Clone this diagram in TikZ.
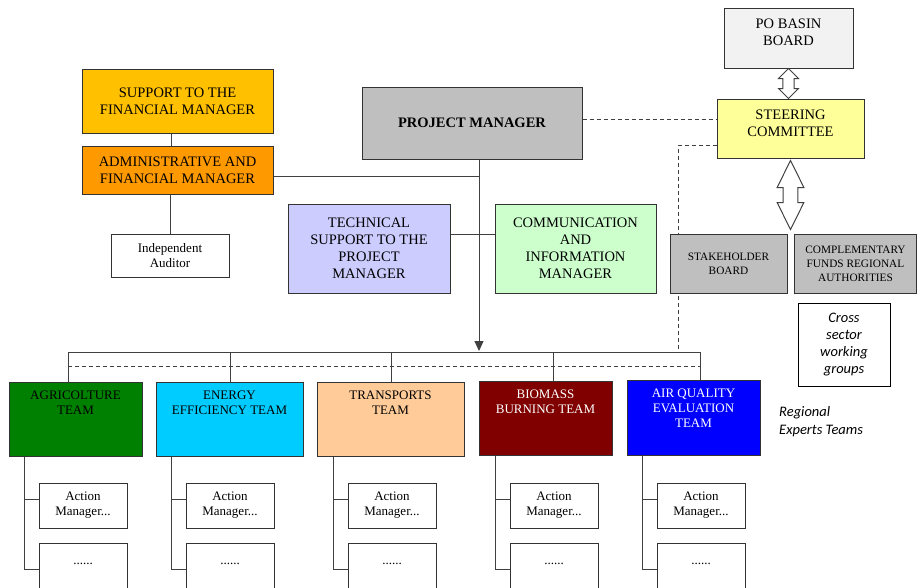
\documentclass[tikz,border=0pt]{standalone}
\usepackage{fontspec}
\setmainfont{Liberation Serif}
\newfontfamily\calibri{Carlito}
\usetikzlibrary{arrows.meta,calc,backgrounds}

\definecolor{pogray}{HTML}{F2F2F2}
\definecolor{scyellow}{HTML}{FFFF99}
\definecolor{boxgray}{HTML}{BFBFBF}
\definecolor{supgold}{HTML}{FFC000}
\definecolor{admorange}{HTML}{FF9900}
\definecolor{techblue}{HTML}{CCCCFF}
\definecolor{commgreen}{HTML}{CCFFCC}
\definecolor{agrigreen}{HTML}{008000}
\definecolor{enercyan}{HTML}{00CCFF}
\definecolor{tranpeach}{HTML}{FFCC99}
\definecolor{biomred}{HTML}{800000}
\definecolor{airblue}{HTML}{0000FF}
\definecolor{linegray}{HTML}{404040}

\tikzset
{
    unit/.style      = {rectangle, draw=black!80, line width=1pt, align=center, inner sep=2pt, font=\fontsize{14.5}{17}\selectfont},
    smallunit/.style = {unit, font=\fontsize{11.3}{14}\selectfont},
    team/.style      = {unit, minimum width=133pt, minimum height=74pt},
    toptext/.style 2 args = {label={[anchor=north, yshift=-7pt, align=center, inner sep=2pt, text=#2, font=\fontsize{13}{15}\selectfont]north:#1}},
    action/.style    = {unit, minimum width=88pt, minimum height=45pt, font=\fontsize{13}{15}\selectfont},
    link/.style      = {draw=linegray, line width=1pt},
    dashlink/.style  = {link, dash pattern=on 4pt off 3pt},
    arrow/.style     = {link, -{Triangle[length=10pt, width=9pt]}},
    hollow/.style    = {draw=linegray, line width=1pt, fill=white}
}

% hollow double arrow: top, bottom, head half width, shaft half width, head length
\newcommand\hollowarrow[5]{%
  \draw [hollow] let \p1=#1, \p2=#2 in
    (\x1,\y1) -- (\x1+#3,\y1-#5) -- (\x1+#4,\y1-#5) -- (\x1+#4,\y2+#5) -- (\x1+#3,\y2+#5) -- (\x1,\y2)
    -- (\x1-#3,\y2+#5) -- (\x1-#4,\y2+#5) -- (\x1-#4,\y1-#5) -- (\x1-#3,\y1-#5) -- cycle;
}

\begin{document}
\begin{tikzpicture}[x=1pt, y=-1pt]
	\useasboundingbox (0,0) rectangle (918,587);
	\clip (0,0) rectangle (918,587);

	% governance
	\node (po) [unit, fill=pogray, minimum width=129pt, minimum height=60pt, label={[anchor=north, yshift=-9pt, align=center, inner sep=2pt, font=\fontsize{14.5}{17}\selectfont]north:PO BASIN\\BOARD}] at (788.5,38) {};
	\node (sc) [unit, fill=scyellow, minimum width=147pt, minimum height=59pt, label={[anchor=north, yshift=-9pt, align=center, inner sep=2pt, font=\fontsize{14.5}{17}\selectfont]north:STEERING\\COMMITTEE}] at (790.5,128.5) {};
	\node (sh) [smallunit, fill=boxgray, minimum width=117pt, minimum height=59pt] at (728.5,263.5) {STAKEHOLDER\\BOARD};
	\node (cf) [smallunit, fill=boxgray, minimum width=122pt, minimum height=59pt] at (855.5,263.5) {COMPLEMENTARY\\FUNDS REGIONAL\\AUTHORITIES};
	\node (cs) [unit, fill=white, draw=black, minimum width=92pt, minimum height=83pt, font=\calibri\itshape\fontsize{14.5}{17}\selectfont] at (844,344.5) {Cross\\sector\\working\\groups};
	\node (regional) [anchor=west, align=left, inner sep=0pt, font=\calibri\itshape\fontsize{14.5}{18}\selectfont] at (779,422) {Regional\\Experts Teams};

	% management
	\node (pm) [unit, fill=boxgray, minimum width=220pt, minimum height=72pt, font=\fontsize{14.5}{17}\selectfont\bfseries] at (472,123) {PROJECT MANAGER};
	\node (sup) [unit, fill=supgold, minimum width=191pt, minimum height=64pt] at (177.5,101) {SUPPORT TO THE\\FINANCIAL MANAGER};
	\node (adm) [unit, fill=admorange, minimum width=191pt, minimum height=48pt] at (177.5,170) {ADMINISTRATIVE AND\\FINANCIAL MANAGER};
	\node (aud) [action, fill=white, minimum width=118pt, minimum height=43pt] at (170,255.5) {Independent\\Auditor};
	\node (tech) [unit, fill=techblue, minimum width=162pt, minimum height=89pt] at (369,248.5) {TECHNICAL\\SUPPORT TO THE\\PROJECT\\MANAGER};
	\node (comm) [unit, fill=commgreen, minimum width=161pt, minimum height=89pt] at (575.5,248.5) {COMMUNICATION\\AND\\INFORMATION\\MANAGER};

	% teams
	\node (agri) [team, fill=agrigreen, toptext={AGRICOLTURE\\TEAM}{black}] at (75.5,419) {};
	\node (ener) [team, fill=enercyan, minimum width=147pt, toptext={ENERGY\\EFFICIENCY TEAM}{black}] at (229.5,419) {};
	\node (tran) [team, fill=tranpeach, minimum width=147pt, toptext={TRANSPORTS\\TEAM}{black}] at (390.5,419) {};
	\node (biom) [team, fill=biomred, toptext={BIOMASS\\BURNING TEAM}{white}] at (545.5,418) {};
	\node (airq) [team, fill=airblue, minimum height=75pt, toptext={AIR QUALITY\\EVALUATION\\TEAM}{white}] at (693.5,417.5) {};

	\coordinate (trunk) at (479,351);
	\coordinate (drop) at (678,352);
	\coordinate (b1) at (68,352);
	\coordinate (b2) at (230,352);
	\coordinate (b3) at (391.5,352);
	\coordinate (b4) at (553,352);
	\coordinate (b5) at (700,352);

	\foreach \t/\x in {agri/24, ener/171, tran/333, biom/495, airq/642}
	{
		\node (act\t) [action] at (\x+59,505.5) {Action\\Manager...};
		\node (dot\t) [action, label={[anchor=north, yshift=-18pt, inner sep=2pt, font=\fontsize{13}{15}\selectfont]north:......}] at (\x+59,565.5) {};
		\draw [link] (\x,0 |- \t.south) |- ([yshift=-3.5pt]dot\t.west);
		\draw [link] ([yshift=6.5pt]act\t.west) -- ++(-15,0);
	}

	\begin{scope}[on background layer]
	\draw [link] ([xshift=-6.5pt]sup.south) -- ([xshift=-6.5pt]adm.north);
	\draw [link] (adm.south -| aud.north) -- (aud.north);
	\draw [link] ([yshift=-6pt]adm.east) -- ([yshift=-6pt]adm.east -| trunk);
	\draw [arrow] (pm.south -| trunk) -- (trunk);
	\draw [link] ([yshift=14.5pt]tech.east) -- ([yshift=14.5pt]comm.west);
	\draw [dashlink] ([yshift=4pt]pm.east) -- ([yshift=4pt]pm.east -| sc.west);
	\draw [dashlink] ([yshift=-16.5pt]sc.west) -| (drop);
	\draw [link] (b1) -- (b5);
	\draw [dashlink] ([yshift=-14pt]b1) -- ([yshift=-14pt]b5);
	\foreach \b/\t in {b1/agri, b2/ener, b3/tran, b4/biom, b5/airq}
		\draw [link] (\b) -- (\b |- \t.north);
	\end{scope}

	\hollowarrow{(po.south)}{(sc.north)}{10pt}{5.7pt}{10pt}
	\hollowarrow{([yshift=-2pt]sc.south)}{([yshift=4pt]sh.north)}{13.4pt}{7.3pt}{27pt}

\end{tikzpicture}
\end{document}
